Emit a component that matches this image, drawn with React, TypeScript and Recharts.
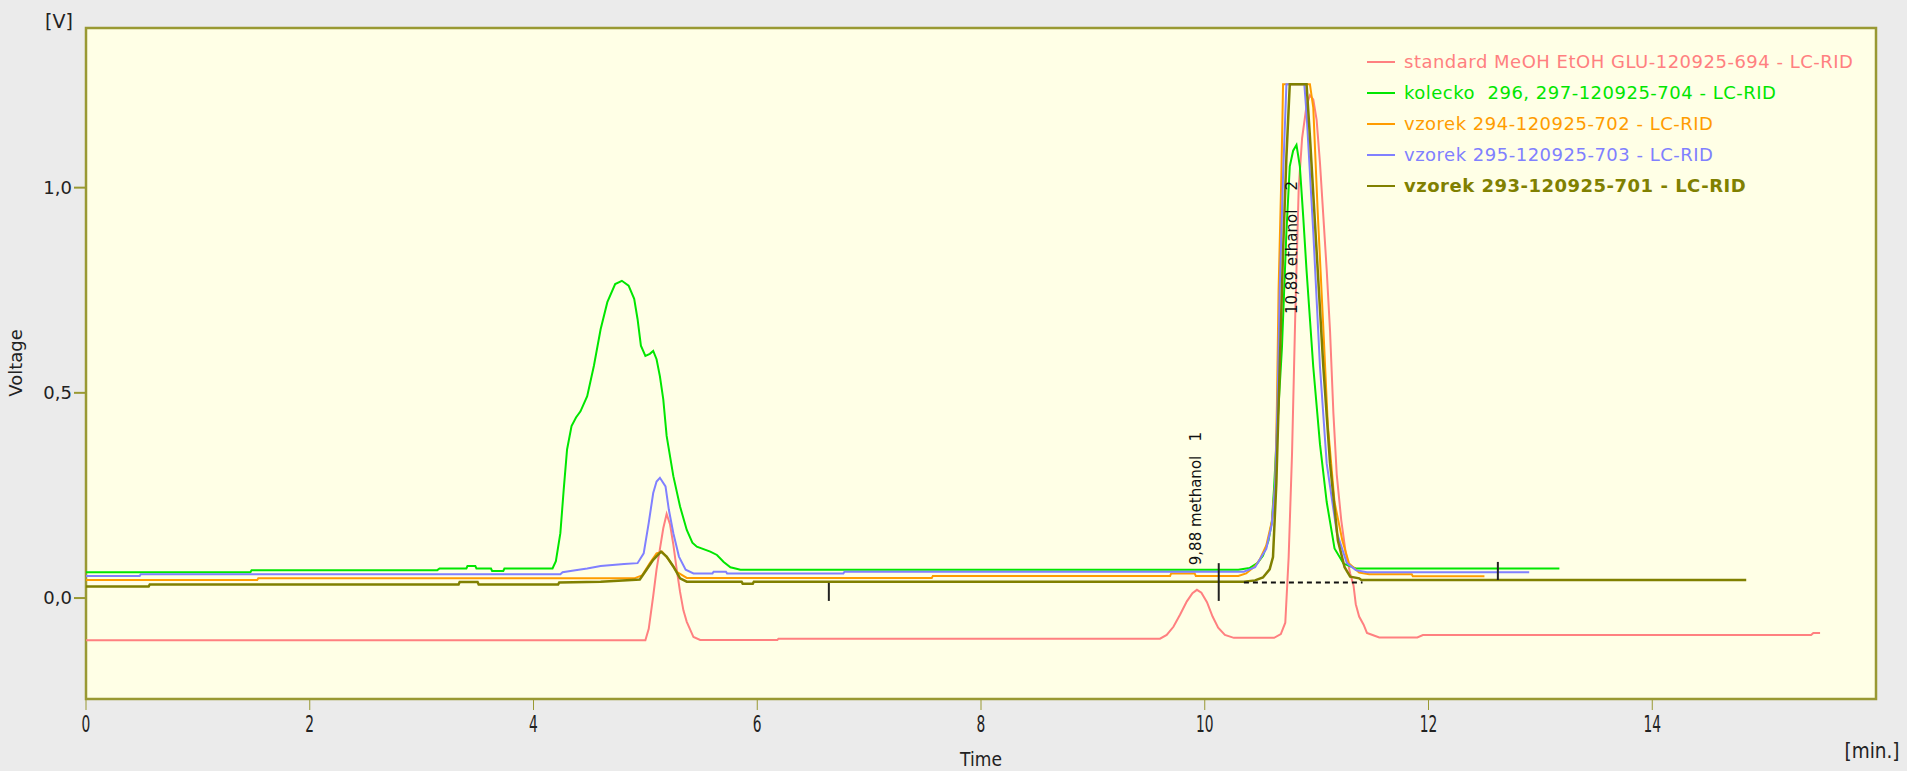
import React from "react"
import { LineChart, Line, XAxis, YAxis, CartesianGrid, ReferenceArea, ReferenceLine, ReferenceDot } from "recharts"

// time [min], voltage [V]
const standard694: [number, number][] = [
  [0, -0.103], [5.0, -0.103], [5.03, -0.075], [5.07, 0.005], [5.1, 0.07], [5.13, 0.12], [5.16, 0.17], [5.19, 0.205],
  [5.22, 0.18], [5.25, 0.13], [5.28, 0.07], [5.31, 0.015], [5.34, -0.03], [5.37, -0.058], [5.43, -0.095], [5.49, -0.102],
  [6.18, -0.102], [6.19, -0.099], [9.6, -0.099], [9.66, -0.09], [9.72, -0.07], [9.78, -0.04], [9.84, -0.008], [9.89, 0.012],
  [9.93, 0.02], [9.97, 0.013], [10.02, -0.01], [10.07, -0.045], [10.12, -0.072], [10.18, -0.09], [10.26, -0.097],
  [10.62, -0.097], [10.68, -0.088], [10.72, -0.06], [10.75, 0.1], [10.78, 0.35], [10.81, 0.7], [10.84, 1.0], [10.87, 1.12],
  [10.91, 1.2], [10.94, 1.225], [10.97, 1.215], [11.0, 1.165], [11.03, 1.06], [11.06, 0.93], [11.09, 0.8], [11.12, 0.65],
  [11.15, 0.45], [11.18, 0.3], [11.22, 0.19], [11.26, 0.11], [11.3, 0.06], [11.33, 0.03], [11.35, -0.015], [11.38, -0.045],
  [11.42, -0.065], [11.45, -0.085], [11.5, -0.09], [11.56, -0.096], [11.9, -0.096], [11.95, -0.09], [15.42, -0.09],
  [15.44, -0.085], [15.5, -0.085],
]

const kolecko704: [number, number][] = [
  [0, 0.063], [1.47, 0.063], [1.48, 0.068], [3.14, 0.068], [3.16, 0.072], [3.4, 0.072], [3.41, 0.078], [3.48, 0.078],
  [3.49, 0.072], [3.62, 0.072], [3.63, 0.066], [3.73, 0.066], [3.74, 0.072], [4.17, 0.072], [4.2, 0.09], [4.24, 0.158],
  [4.27, 0.264], [4.3, 0.362], [4.34, 0.419], [4.38, 0.44], [4.42, 0.455], [4.48, 0.492], [4.54, 0.566], [4.6, 0.655],
  [4.66, 0.721], [4.73, 0.765], [4.79, 0.773], [4.85, 0.761], [4.9, 0.729], [4.93, 0.68], [4.96, 0.615], [5.0, 0.59],
  [5.04, 0.595], [5.07, 0.602], [5.1, 0.582], [5.13, 0.54], [5.16, 0.484], [5.19, 0.395], [5.25, 0.297], [5.31, 0.223],
  [5.37, 0.166], [5.42, 0.135], [5.46, 0.125], [5.58, 0.113], [5.64, 0.105], [5.7, 0.088], [5.76, 0.075], [5.85, 0.069],
  [10.3, 0.069], [10.4, 0.073], [10.47, 0.085], [10.52, 0.103], [10.57, 0.14], [10.6, 0.187], [10.62, 0.27], [10.64, 0.375],
  [10.69, 0.61], [10.73, 0.892], [10.76, 1.052], [10.79, 1.09], [10.82, 1.104], [10.85, 1.052], [10.88, 0.93], [10.91, 0.798],
  [10.97, 0.563], [11.03, 0.375], [11.09, 0.234], [11.16, 0.121], [11.24, 0.084], [11.35, 0.072], [13.17, 0.072],
]

const vzorek702: [number, number][] = [
  [0, 0.044], [1.53, 0.044], [1.54, 0.048], [4.9, 0.048], [4.97, 0.055], [5.04, 0.085], [5.1, 0.109], [5.15, 0.113],
  [5.21, 0.093], [5.28, 0.064], [5.37, 0.049], [7.56, 0.049], [7.57, 0.054], [9.69, 0.054], [9.7, 0.06], [9.91, 0.06],
  [9.92, 0.054], [10.3, 0.054], [10.37, 0.06], [10.45, 0.078], [10.49, 0.093], [10.55, 0.128], [10.6, 0.187], [10.63, 0.281],
  [10.645, 0.469], [10.66, 0.751], [10.685, 1.033], [10.7, 1.252], [10.94, 1.252], [10.97, 1.195], [11.01, 0.939],
  [11.06, 0.657], [11.1, 0.422], [11.16, 0.234], [11.23, 0.14], [11.29, 0.084], [11.38, 0.062], [11.47, 0.058],
  [11.85, 0.058], [11.86, 0.053], [12.5, 0.053],
]

const vzorek703: [number, number][] = [
  [0, 0.054], [0.48, 0.054], [0.49, 0.058], [4.24, 0.058], [4.26, 0.063], [4.36, 0.067], [4.48, 0.072], [4.6, 0.078],
  [4.81, 0.083], [4.93, 0.085], [4.985, 0.109], [5.03, 0.183], [5.07, 0.256], [5.1, 0.284], [5.13, 0.293], [5.18, 0.272],
  [5.21, 0.215], [5.25, 0.158], [5.3, 0.101], [5.36, 0.069], [5.43, 0.06], [5.6, 0.06], [5.61, 0.064], [5.72, 0.064],
  [5.73, 0.06], [6.77, 0.06], [6.78, 0.064], [10.35, 0.064], [10.45, 0.075], [10.55, 0.12], [10.6, 0.18], [10.63, 0.28],
  [10.65, 0.47], [10.67, 0.75], [10.7, 1.03], [10.73, 1.252], [10.89, 1.252], [10.91, 1.18], [10.97, 0.892], [11.03, 0.563],
  [11.09, 0.328], [11.18, 0.16], [11.27, 0.085], [11.35, 0.068], [11.45, 0.063], [12.9, 0.063],
]

const vzorek701: [number, number][] = [
  [0, 0.028], [0.56, 0.028], [0.57, 0.033], [3.33, 0.033], [3.34, 0.039], [3.5, 0.039], [3.51, 0.033], [4.22, 0.033],
  [4.23, 0.038], [4.6, 0.04], [4.95, 0.045], [5.01, 0.069], [5.07, 0.093], [5.14, 0.113], [5.19, 0.101], [5.25, 0.077],
  [5.31, 0.048], [5.37, 0.04], [5.86, 0.04], [5.87, 0.035], [5.96, 0.035], [5.97, 0.04], [10.35, 0.04], [10.45, 0.043],
  [10.52, 0.05], [10.58, 0.07], [10.61, 0.1], [10.64, 0.28], [10.67, 0.563], [10.7, 0.845], [10.73, 1.075], [10.76, 1.252],
  [10.91, 1.252], [10.94, 1.125], [11.0, 0.845], [11.06, 0.563], [11.12, 0.328], [11.19, 0.14], [11.25, 0.075],
  [11.3, 0.052], [11.38, 0.048], [11.4, 0.044], [14.84, 0.044],
]

const xTicks = [0, 2, 4, 6, 8, 10, 12, 14]
const yTicks = [0, 0.5, 1.0]

// integration marks: time, top, bottom
const markTicks: [number, number, number][] = [
  [6.64, 0.037, -0.007],
  [10.125, 0.085, -0.007],
  [12.62, 0.088, 0.044],
]
const peakBaseline = { from: 10.35, to: 11.41, v: 0.038 }

const peakLabels = [
  { t: 9.92, v: 0.08, text: "9,88 methanol   1" },
  { t: 10.78, v: 0.692, text: "10,89 ethanol    2" },
]

const series = [
  { name: "standard MeOH EtOH GLU-120925-694 - LC-RID", color: "#ff8080", data: standard694, width: 2, bold: false },
  { name: "kolecko  296, 297-120925-704 - LC-RID", color: "#00e600", data: kolecko704, width: 2, bold: false },
  { name: "vzorek 294-120925-702 - LC-RID", color: "#ff9c00", data: vzorek702, width: 2, bold: false },
  { name: "vzorek 295-120925-703 - LC-RID", color: "#8080ff", data: vzorek703, width: 2, bold: false },
  { name: "vzorek 293-120925-701 - LC-RID", color: "#808000", data: vzorek701, width: 2.5, bold: true },
]

const W = 1907
const H = 771
const FONT = "'DejaVu Sans', Verdana, sans-serif"
const OLIVE = "#999933"

const XTick = (props: any) => {
  const { x, y, payload } = props
  return (
    <g transform={`translate(${x},${y})`}>
      <text transform="scale(0.6,1)" y={12} textAnchor="middle" dominantBaseline="central" fontSize={23} fontFamily={FONT} fill="#222">
        {payload.value}
      </text>
    </g>
  )
}

const PeakLabel = (props: any) => {
  const { cx, cy, text } = props
  return (
    <text
      x={cx}
      y={cy}
      transform={`rotate(-90 ${cx} ${cy})`}
      dominantBaseline="central"
      fontSize={15}
      fontFamily={FONT}
      fill="#111"
      style={{ whiteSpace: "pre" }}
    >
      {text}
    </text>
  )
}

export default function App() {
  return (
    <div style={{ position: "absolute", left: 0, top: 0, width: W, height: H, background: "#ebebeb", fontFamily: FONT }}>
      <LineChart width={W} height={H} margin={{ top: 28, right: 31, bottom: 0, left: 0 }}>
        <CartesianGrid horizontal={false} vertical={false} fill="#ffffe6" />
        <XAxis
          type="number"
          dataKey="t"
          domain={[0, 16]}
          ticks={xTicks}
          height={72}
          tickSize={11}
          tickMargin={1}
          axisLine={false}
          tickLine={{ stroke: OLIVE, strokeWidth: 1 }}
          tick={<XTick />}
          allowDataOverflow
        />
        <YAxis
          type="number"
          domain={[-0.246, 1.389]}
          ticks={yTicks}
          width={86}
          tickSize={12}
          tickMargin={2}
          axisLine={false}
          tickLine={{ stroke: OLIVE, strokeWidth: 2 }}
          tick={{ fill: "#222", fontSize: 18, fontFamily: FONT }}
          tickFormatter={(v: number) => v.toFixed(1).replace(".", ",")}
          allowDataOverflow
        />
        {peakLabels.map((p) => (
          <ReferenceDot key={p.text} x={p.t} y={p.v} r={1} shape={(s: any) => <PeakLabel {...s} text={p.text} />} />
        ))}
        {series.map((s) => (
          <Line
            key={s.name}
            data={s.data.map(([t, v]) => ({ t, v }))}
            dataKey="v"
            type="linear"
            stroke={s.color}
            strokeWidth={s.width}
            dot={false}
            activeDot={false}
            isAnimationActive={false}
          />
        ))}
        {markTicks.map(([t, top, bottom]) => (
          <ReferenceLine
            key={t}
            segment={[{ x: t, y: top }, { x: t, y: bottom }]}
            stroke="#222"
            strokeWidth={2}
          />
        ))}
        <ReferenceLine
          segment={[{ x: peakBaseline.from, y: peakBaseline.v }, { x: peakBaseline.to, y: peakBaseline.v }]}
          stroke="#111"
          strokeWidth={2}
          strokeDasharray="5 4"
        />
        <ReferenceArea x1={0} x2={16} y1={-0.246} y2={1.389} fill="none" stroke={OLIVE} strokeWidth={2.5} />
      </LineChart>

      <svg width={W} height={H} style={{ position: "absolute", left: 0, top: 0, pointerEvents: "none" }}>
        <text x={59} y={21} textAnchor="middle" dominantBaseline="central" fontSize={19} fontFamily={FONT} fill="#222">[V]</text>
        <text x={15} y={363} transform="rotate(-90 15 363)" textAnchor="middle" dominantBaseline="central" fontSize={18} fontFamily={FONT} fill="#222">Voltage</text>
        <text transform="translate(981,759) scale(0.9,1)" textAnchor="middle" dominantBaseline="central" fontSize={19} fontFamily={FONT} fill="#222">Time</text>
        <text transform="translate(1872,750) scale(0.84,1)" textAnchor="middle" dominantBaseline="central" fontSize={22} fontFamily={FONT} fill="#222">[min.]</text>
      </svg>

      <div style={{ position: "absolute", left: 1367, top: 46 }}>
        {series.map((s) => (
          <div key={s.name} style={{ display: "flex", alignItems: "center", height: 31.1, whiteSpace: "pre" }}>
            <div style={{ width: 28, height: 2, background: s.color, marginRight: 9 }} />
            <span style={{ color: s.color, fontSize: 18, letterSpacing: 0.5, fontWeight: s.bold ? "bold" : "normal" }}>{s.name}</span>
          </div>
        ))}
      </div>
    </div>
  )
}
